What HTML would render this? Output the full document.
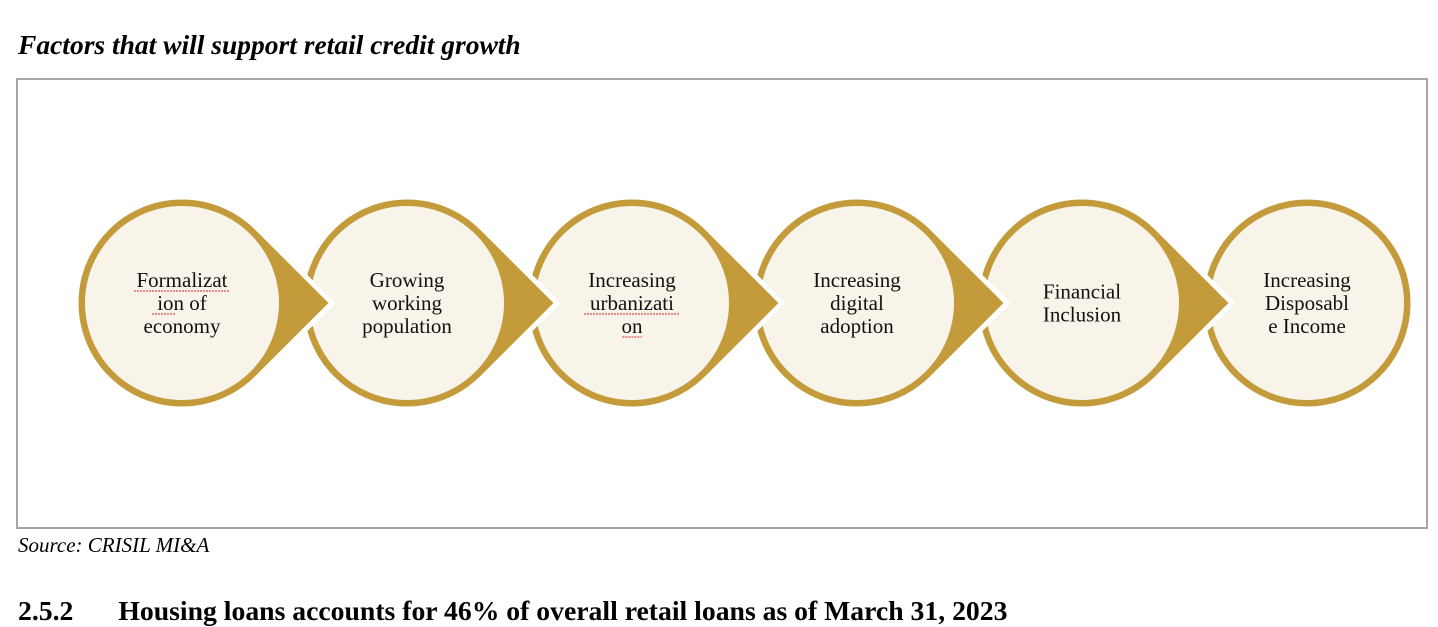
<!DOCTYPE html>
<html><head><meta charset="utf-8"><style>
body{margin:0;width:1438px;height:610px;overflow:hidden;background:#fff;font-family:"Liberation Serif",serif;}
.t{position:absolute;left:18px;top:29px;font-size:27.5px;font-weight:bold;font-style:italic;white-space:nowrap;}
.src{position:absolute;left:18px;top:533px;font-size:21px;font-style:italic;}
.h{position:absolute;left:18px;top:595px;font-size:27.7px;font-weight:bold;white-space:nowrap;}
.frame{position:absolute;left:16px;top:78px;width:1408px;height:447px;border:2px solid #a6a6a6;}
svg{position:absolute;left:0;top:0;}
</style></head><body>
<div class="t">Factors that will support retail credit growth</div>
<div class="frame"></div>
<svg width="1438" height="610" id="svg"></svg>
<div class="src">Source: CRISIL MI&amp;A</div>
<div class="h">2.5.2<span style="display:inline-block;width:45px"></span>Housing loans accounts for 46% of overall retail loans as of March 31, 2023</div>
<script>
const labels=[["Formalizat","ion of","economy"],["Growing","working","population"],["Increasing","urbanizati","on"],["Increasing","digital","adoption"],["Financial","Inclusion"],["Increasing","Disposabl","e Income"]];
const svg=document.getElementById('svg');const NS='http://www.w3.org/2000/svg';
const cx0=182,dx=225,cy=303,R=106,tip=150;
for(let i=labels.length-1;i>=0;i--){
 const cx=cx0+i*dx;const g=document.createElementNS(NS,'g');
 
 
 const last=i===labels.length-1;
 const outer=document.createElementNS(NS,'path');
 let d;
 if(last){d=`M${cx-R},${cy} a${R},${R} 0 1,0 ${2*R},0 a${R},${R} 0 1,0 ${-2*R},0Z`;}
 else{const a=Math.acos(R/tip);const tx=cx+R*Math.cos(a),ty=R*Math.sin(a);
 d=`M${cx+tip},${cy} L${tx},${cy-ty} A${R},${R} 0 1,0 ${tx},${cy+ty} Z`;}
 outer.setAttribute('d',d);outer.setAttribute('fill','#c49b3b');outer.setAttribute('stroke','#fff');outer.setAttribute('stroke-width','5');
 g.appendChild(outer);
 const c=document.createElementNS(NS,'circle');c.setAttribute('cx',cx);c.setAttribute('cy',cy);c.setAttribute('r',R-9);c.setAttribute('fill','#f8f4ea');
 g.appendChild(c);
 const L=labels[i];const y0=cy-(L.length-1)*23/2+7;
 L.forEach((s,j)=>{const t=document.createElementNS(NS,'text');t.setAttribute('x',cx);t.setAttribute('y',y0+j*23);
 t.setAttribute('text-anchor','middle');t.setAttribute('font-size','21');t.setAttribute('font-family','Liberation Serif, serif');t.setAttribute('fill','#111');
 
 
 t.textContent=s;g.appendChild(t);
 if((i===0&&j<2)||(i===2&&j>0)){const u=document.createElementNS(NS,'line');const w=s==='ion of'?24:(s.length*9.6);const x1=s==='ion of'?cx-30:cx-w/2;
 u.setAttribute('x1',x1);u.setAttribute('x2',x1+w);u.setAttribute('y1',y0+j*23+4);u.setAttribute('y2',y0+j*23+4);u.setAttribute('stroke','#d22');u.setAttribute('stroke-width','1');u.setAttribute('stroke-dasharray','2,1');g.appendChild(u);}
 });
 svg.appendChild(g);
}
</script>
</body></html>
